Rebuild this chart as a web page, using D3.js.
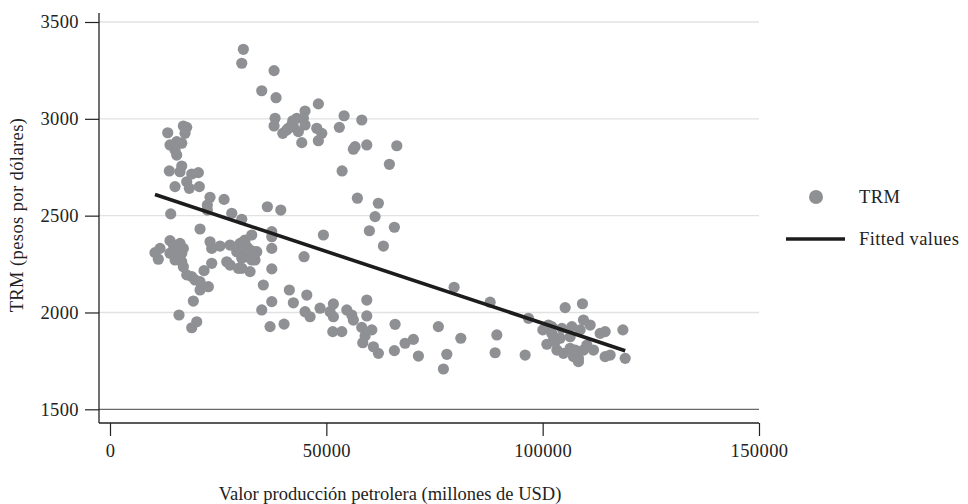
<!DOCTYPE html>
<html>
<head>
<meta charset="utf-8">
<script src="https://cdn.jsdelivr.net/npm/d3@7"></script>
<style>
  body { margin: 0; background: #fff; }
  text { font-family: "Liberation Serif", "DejaVu Serif", serif; fill: #222; letter-spacing: 0.4px; }
</style>
</head>
<body>
<script>
// valor producción petrolera (millones USD)
const prodValue = [
  13340, 16950, 17730, 17340, 13870, 15420, 16580, 15030, 15420, 13710,
  16580, 16180, 18890, 20420, 17730, 15030, 18330, 20650, 23120, 26360,
  22500, 22500, 28140, 30450, 14030, 20810, 11560, 10400, 13870, 14640,
  16180, 16950, 15420, 16580, 13870, 11170, 15030, 16580, 16950, 17730,
  18890, 19650, 20810, 20810, 22730, 19260, 15950, 20050, 18890, 23120,
  23510, 23510, 21730, 25430, 27740, 30060, 31210, 32760, 26980, 27740,
  29660, 29290, 31210, 31980, 30450, 33130, 33520, 32370, 31610, 33920,
  35440, 35070, 30820, 30450, 37920, 35070, 38380, 48160, 38150, 37920,
  39930, 41220, 42240, 43170, 45080, 44690, 42380, 43540, 45080, 44320,
  47790, 48950, 48160, 54100, 53010, 58190, 56640, 56250, 59350, 66290,
  64570, 53640, 57180, 62030, 36370, 39470, 40850, 42010, 30820, 32370,
  33520, 32760, 30450, 37390, 37390, 37390, 37390, 49320, 44850, 41450,
  45480, 37390, 42380, 45080, 46240, 48550, 51630, 50860, 51630, 54730,
  55880, 56250, 59350, 59350, 36990, 40230, 51490, 53570, 58190, 60510,
  58960, 58420, 60880, 62030, 61270, 59950, 63190, 65730, 79530, 87860,
  96710, 105200, 109200, 65890, 65730, 68200, 70120, 71280, 75900, 77850,
  77060, 81080, 89410, 89010, 95950, 100040, 100970, 103280, 104800, 107120,
  102120, 104430, 106750, 106350, 108270, 101340, 102490, 102120, 109430, 110980,
  108660, 113290, 114440, 118540, 102880, 104040, 106350, 107510, 108270, 109430,
  111740, 114440, 115600, 119070, 110210
];

// TRM (pesos por dólar)
const trmValue = [
  2928, 2963, 2956, 2925, 2865, 2882, 2874, 2839, 2813, 2731,
  2756, 2727, 2715, 2722, 2675, 2650, 2641, 2650, 2595, 2584,
  2555, 2529, 2512, 2481, 2509, 2431, 2331, 2309, 2371, 2348,
  2357, 2331, 2314, 2306, 2306, 2275, 2271, 2262, 2236, 2194,
  2185, 2168, 2159, 2116, 2133, 2059, 1987, 1952, 1921, 2365,
  2331, 2254, 2216, 2343, 2348, 2357, 2374, 2400, 2262, 2245,
  2228, 2314, 2306, 2288, 2280, 2314, 2271, 2211, 2340, 2314,
  2142, 2013, 3359, 3287, 3249, 3145, 3109, 3077, 3003, 2963,
  2925, 2951, 2990, 3003, 3040, 3003, 2959, 2934, 2968, 2877,
  2951, 2925, 2887, 3016, 2956, 2994, 2856, 2843, 2865, 2861,
  2765, 2731, 2590, 2564, 2546, 2529, 2942, 2968, 2365, 2323,
  2306, 2271, 2228, 2417, 2391, 2331, 2225, 2400, 2288, 2116,
  2090, 2056, 2050, 2004, 1978, 2022, 2044, 2004, 1978, 2013,
  1987, 1961, 2064, 1982, 1927, 1940, 1901, 1901, 1923, 1910,
  1879, 1844, 1823, 1789, 2495, 2422, 2343, 2440, 2130, 2053,
  1970, 2025, 2045, 1939, 1803, 1841, 1861, 1775, 1927, 1784,
  1708, 1867, 1884, 1792, 1780, 1910, 1836, 1806, 1789, 1772,
  1927, 1918, 1927, 1875, 1746, 1935, 1875, 1892, 1961, 1935,
  1910, 1892, 1901, 1910, 1849, 1867, 1815, 1806, 1763, 1806,
  1806, 1772, 1780, 1763, 1832
];

const xTicks = [0, 50000, 100000, 150000];
const yTicks = [1500, 2000, 2500, 3000, 3500];

// lfit
const fitIntercept = 2686;
const fitSlope = -0.007418;

const legendItems = ["TRM", "Fitted values"];
const xAxisLabelText = "Valor producción petrolera (millones de USD)";
const yAxisLabelText = "TRM (pesos por dólares)";

const width = 968;
const height = 504;
const plotLeft = 99;
const plotRight = 759;
const plotBottom = 423;
const fontSize = "18.5px";
const pointColor = "#8f9094";
const lineColor = "#1c1c1c";

const data = prodValue.map((v, i) => ({ prod: v, trm: trmValue[i] }));

const svg = d3.select("body").append("svg")
  .attr("width", width)
  .attr("height", height);

const xScale = d3.scaleLinear().domain([0, 150000]).range([110, 759]);
const yScale = d3.scaleLinear().domain([1500, 3500]).range([409.3, 22]);

// gridlines
svg.append("g").selectAll("line").data(yTicks).join("line")
  .attr("x1", plotLeft)
  .attr("x2", plotRight)
  .attr("y1", d => yScale(d))
  .attr("y2", d => yScale(d))
  .attr("stroke", d => d === 1500 ? "#6a6a6a" : "#e2e2e2")
  .attr("stroke-width", 1.3);

const yAxis = d3.axisLeft(yScale).tickValues(yTicks).tickSize(14).tickPadding(6)
  .tickFormat(d3.format("d"));
const yAxisG = svg.append("g")
  .attr("transform", `translate(${plotLeft}, 0)`)
  .call(yAxis);
yAxisG.select(".domain").remove();
yAxisG.append("line")
  .attr("x1", 0).attr("x2", 0)
  .attr("y1", 13).attr("y2", plotBottom)
  .attr("stroke", "#222").attr("stroke-width", 1.3);

const xAxis = d3.axisBottom(xScale).tickValues(xTicks).tickSize(13).tickPadding(8)
  .tickFormat(d3.format("d"));
const xAxisG = svg.append("g")
  .attr("transform", `translate(0, ${plotBottom})`)
  .call(xAxis);
xAxisG.select(".domain").remove();
xAxisG.append("line")
  .attr("x1", plotLeft).attr("x2", plotRight)
  .attr("y1", 0).attr("y2", 0)
  .attr("stroke", "#222").attr("stroke-width", 1.3);

svg.selectAll(".tick line").attr("stroke", "#222").attr("stroke-width", 1.2);
svg.selectAll(".tick text")
  .style("font-family", "'Liberation Serif', serif")
  .style("font-size", fontSize)
  .attr("fill", "#222");

// points
svg.append("g").selectAll("circle").data(data).join("circle")
  .attr("cx", d => xScale(d.prod))
  .attr("cy", d => yScale(d.trm))
  .attr("r", 5.6)
  .attr("fill", pointColor);

// fitted values
const fitX = d3.extent(prodValue);
const line = d3.line()
  .x(d => xScale(d))
  .y(d => yScale(fitIntercept + fitSlope * d));
svg.append("path")
  .datum(fitX)
  .attr("d", line)
  .attr("fill", "none")
  .attr("stroke", lineColor)
  .attr("stroke-width", 3.6);

// axis titles
svg.append("text")
  .attr("x", 390)
  .attr("y", 500)
  .attr("text-anchor", "middle")
  .style("font-size", fontSize)
  .style("letter-spacing", "0px")
  .text(xAxisLabelText);

svg.append("text")
  .attr("transform", `translate(23, 215) rotate(-90)`)
  .attr("text-anchor", "middle")
  .style("font-size", fontSize)
  .text(yAxisLabelText);

// legend
const legend = svg.append("g");
legend.append("circle")
  .attr("cx", 816).attr("cy", 197)
  .attr("r", 7)
  .attr("fill", pointColor);
legend.append("line")
  .attr("x1", 786).attr("x2", 845)
  .attr("y1", 239).attr("y2", 239)
  .attr("stroke", lineColor)
  .attr("stroke-width", 3.6);
legend.selectAll("text.leg").data(legendItems).join("text")
  .attr("class", "leg")
  .attr("x", 859)
  .attr("y", (d, i) => i === 0 ? 197 : 239)
  .attr("dy", "0.35em")
  .style("font-size", fontSize)
  .text(d => d);
</script>
</body>
</html>
